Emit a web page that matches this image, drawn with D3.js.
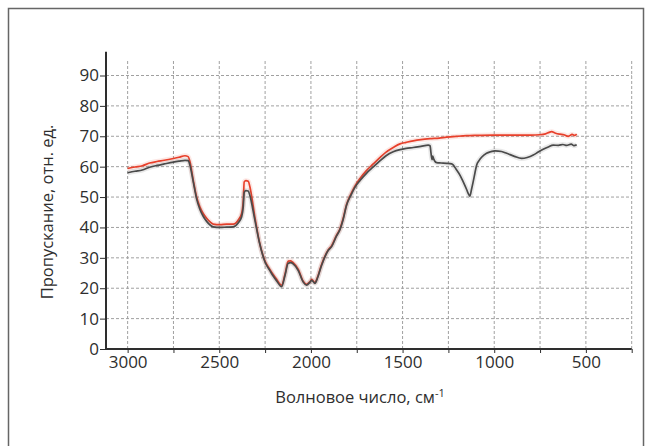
<!DOCTYPE html>
<html>
<head>
<meta charset="utf-8">
<script src="https://cdn.jsdelivr.net/npm/d3@7"></script>
<style>
  body { margin: 0; background: #fff; }
  svg { display: block; font-family: "Open Sans", sans-serif; }
</style>
</head>
<body>
<svg class="main" width="652" height="446"></svg>
<script>
// red curve (upper)
var redWn = [3000, 2960, 2920, 2880, 2840, 2800, 2750, 2720, 2687, 2670, 2660, 2642, 2624, 2606, 2587, 2569, 2550, 2533, 2496, 2460, 2424, 2397, 2378, 2369, 2364, 2355, 2342, 2333, 2306, 2282, 2251, 2224, 2206, 2188, 2160, 2142, 2124, 2110, 2097, 2069, 2042, 2024, 2005, 1996, 1978, 1965, 1942, 1906, 1887, 1860, 1842, 1824, 1806, 1780, 1760, 1730, 1696, 1660, 1624, 1590, 1551, 1514, 1480, 1442, 1400, 1350, 1300, 1260, 1200, 1150, 1100, 1005, 900, 800, 751, 720, 700, 687, 665, 642, 620, 596, 575, 560, 550];
var redT = [59.4, 59.9, 60.3, 61.2, 61.7, 62.1, 62.7, 63.1, 63.6, 63.3, 61.6, 55.6, 50.1, 46.8, 44.5, 43.0, 41.8, 41.1, 40.9, 41.1, 41.1, 42.4, 44.6, 49.0, 55.0, 55.4, 55.2, 53.4, 43.5, 35.5, 29.0, 26.2, 24.5, 23.0, 21.0, 24.5, 28.9, 29.0, 28.4, 26.2, 22.3, 21.3, 22.2, 22.9, 21.9, 23.5, 27.8, 32.6, 34.0, 37.5, 39.5, 43.0, 47.5, 51.2, 53.6, 56.3, 58.8, 60.9, 63.0, 64.8, 66.3, 67.5, 68.0, 68.5, 68.9, 69.2, 69.4, 69.7, 70.0, 70.2, 70.3, 70.4, 70.4, 70.4, 70.5, 70.8, 71.3, 71.5, 71.0, 70.7, 70.5, 70.0, 70.6, 70.3, 70.7];

// grey curve (lower)
var greyWn = [3000, 2960, 2920, 2880, 2840, 2800, 2750, 2720, 2687, 2670, 2660, 2642, 2624, 2606, 2587, 2569, 2550, 2533, 2496, 2460, 2424, 2397, 2378, 2369, 2364, 2355, 2342, 2333, 2306, 2282, 2251, 2224, 2206, 2188, 2160, 2142, 2124, 2110, 2097, 2069, 2042, 2024, 2005, 1996, 1978, 1965, 1942, 1906, 1887, 1860, 1842, 1824, 1806, 1780, 1760, 1730, 1696, 1660, 1624, 1590, 1551, 1514, 1480, 1442, 1400, 1360, 1350, 1345, 1339, 1336, 1330, 1314, 1290, 1260, 1232, 1205, 1185, 1169, 1150, 1142, 1133, 1124, 1115, 1105, 1096, 1083, 1069, 1042, 1020, 996, 960, 932, 890, 851, 820, 787, 760, 733, 705, 678, 650, 625, 605, 580, 565, 550];
var greyT = [58.0, 58.5, 58.9, 59.8, 60.4, 60.9, 61.5, 61.8, 62.1, 62.0, 60.5, 55.0, 49.5, 46.0, 43.6, 42.0, 40.8, 40.2, 40.0, 40.1, 40.2, 41.5, 43.5, 47.0, 51.5, 52.1, 52.0, 50.5, 42.5, 35.3, 28.7, 25.8, 24.0, 22.5, 20.5, 24.0, 28.2, 28.4, 28.0, 25.8, 22.0, 21.0, 22.0, 22.6, 21.6, 23.2, 27.5, 32.4, 33.7, 37.2, 39.2, 42.6, 47.2, 50.8, 53.2, 55.6, 57.9, 59.9, 61.9, 63.6, 64.9, 65.6, 66.0, 66.3, 66.7, 67.1, 66.9, 64.5, 62.3, 63.5, 62.5, 61.3, 61.2, 61.1, 60.9, 58.9, 57.0, 55.0, 52.4, 51.2, 50.3, 52.5, 55.0, 58.0, 60.5, 62.0, 63.1, 64.4, 64.9, 65.2, 65.0, 64.4, 63.4, 62.7, 63.0, 63.8, 64.8, 65.7, 66.5, 67.1, 67.0, 67.3, 67.0, 67.4, 66.9, 67.2];

var xTicks = [3000, 2500, 2000, 1500, 1000, 500],
    xGrid = d3.range(3000, 249, -250),
    yTicks = d3.range(0, 91, 10);

var xTitle = 'Волновое число, см',
    xTitleSup = '-1',
    yTitle = 'Пропускание, отн. ед.';

var svg = d3.select('.main'),
    axisColor = '#2e2e2e',
    gridColor = '#a0a0a0',
    redStroke = '#e8402b',
    greyStroke = '#4a4a4a';

var x = d3.scaleLinear()
    .domain([3118, 250])
    .range([106, 631.7]);

var y = d3.scaleLinear()
    .domain([0, 90])
    .range([349, 75.5]);

// outer frame (bottom runs off the picture)
svg.append('rect')
    .attr('x', 8.5).attr('y', 8.5)
    .attr('width', 635).attr('height', 460)
    .attr('fill', 'none')
    .attr('stroke', '#666')
    .attr('stroke-width', 1.5);

// grid
svg.append('g').selectAll('line')
    .data(yTicks.slice(1))
    .enter().append('line')
    .attr('x1', x(3118)).attr('x2', x(250))
    .attr('y1', d => y(d)).attr('y2', d => y(d))
    .attr('stroke', gridColor)
    .attr('stroke-dasharray', '3,2');

svg.append('g').selectAll('line')
    .data(xGrid)
    .enter().append('line')
    .attr('x1', d => x(d)).attr('x2', d => x(d))
    .attr('y1', y(0)).attr('y2', y(95.2))
    .attr('stroke', gridColor)
    .attr('stroke-dasharray', '3,2');

// curves
var line = d3.line()
    .x(d => x(d[0]))
    .y(d => y(d[1]))
    .curve(d3.curveMonotoneX);

var redData = d3.zip(redWn, redT),
    greyData = d3.zip(greyWn, greyT);

function drawSeries(data, color) {
    // faint halo from the noisy trace
    svg.append('path')
        .datum(data)
        .attr('d', line)
        .attr('fill', 'none')
        .attr('stroke', color)
        .attr('stroke-opacity', 0.12)
        .attr('stroke-width', 5);
    svg.append('path')
        .datum(data)
        .attr('d', line)
        .attr('fill', 'none')
        .attr('stroke', color)
        .attr('stroke-width', 1.7)
        .attr('stroke-linejoin', 'round');
}

drawSeries(redData, redStroke);
drawSeries(greyData, greyStroke);

// x axis
var xAxis = d3.axisBottom(x)
    .tickValues(xGrid)
    .tickSize(4)
    .tickPadding(3)
    .tickFormat(d => xTicks.indexOf(d) != -1 ? d : '');

var gX = svg.append('g')
    .attr('transform', `translate(0,${y(0)})`)
    .call(xAxis);
gX.select('.domain')
    .attr('d', `M${x(3118)},0H${x(250)}`)
    .attr('stroke', axisColor)
    .attr('stroke-width', 2);
gX.selectAll('.tick line').attr('stroke', axisColor);
gX.selectAll('.tick text')
    .attr('fill', axisColor)
    .style('font-size', '17px')
    .style('font-family', '"Open Sans", sans-serif');

// y axis
var yAxis = d3.axisLeft(y)
    .tickValues(yTicks)
    .tickSize(6)
    .tickPadding(1);

var gY = svg.append('g')
    .attr('transform', `translate(${x(3118)},0)`)
    .call(yAxis);
gY.select('.domain')
    .attr('d', `M0,${y(0)}V${y(97.8)}`)
    .attr('stroke', axisColor)
    .attr('stroke-width', 2);
gY.selectAll('.tick line').attr('stroke', axisColor);
gY.selectAll('.tick text')
    .attr('fill', axisColor)
    .style('font-size', '17px')
    .style('font-family', '"Open Sans", sans-serif');

// titles
var xt = svg.append('text')
    .attr('x', 360)
    .attr('y', 403)
    .attr('text-anchor', 'middle')
    .attr('fill', axisColor)
    .style('font-size', '16.5px')
    .text(xTitle);
xt.append('tspan')
    .attr('dy', -6)
    .style('font-size', '11px')
    .text(xTitleSup);

svg.append('text')
    .attr('transform', 'translate(53,212) rotate(-90)')
    .attr('text-anchor', 'middle')
    .attr('fill', axisColor)
    .style('font-size', '16.5px')
    .text(yTitle);
</script>
</body>
</html>
